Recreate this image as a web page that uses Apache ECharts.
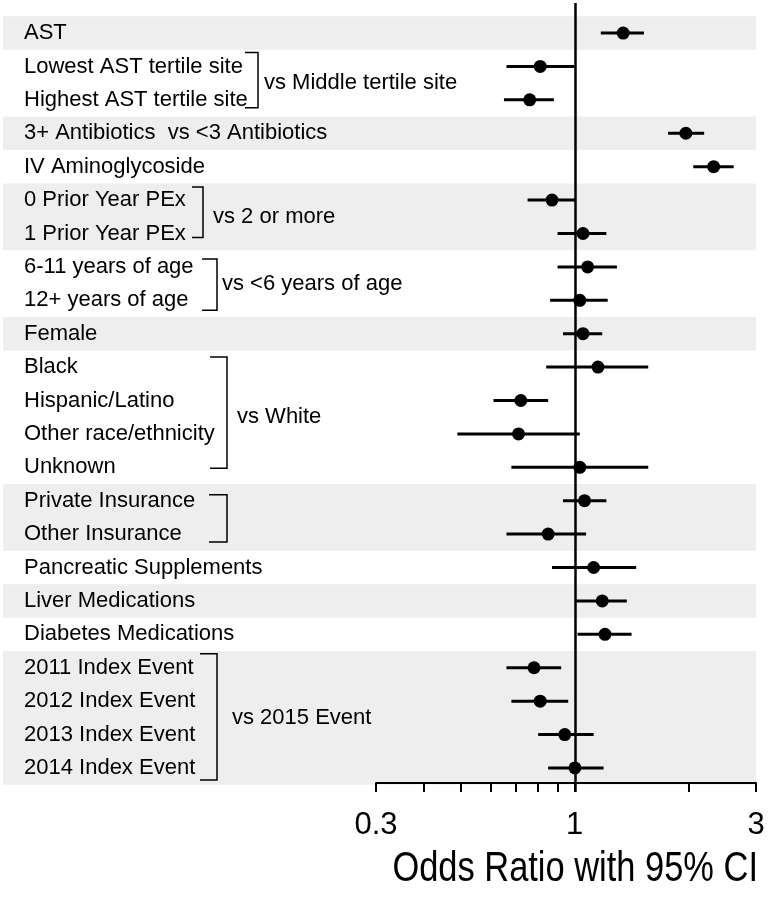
<!DOCTYPE html>
<html><head><meta charset="utf-8">
<script src="https://cdn.jsdelivr.net/npm/echarts@6/dist/echarts.min.js"></script>
<style>html,body{margin:0;padding:0;background:#fff}#chart{width:768px;height:900px}</style>
</head><body><div id="chart"></div>
<script>
// ---------- DATA ----------
const rowLabels = [
  'AST',
  'Lowest AST tertile site',
  'Highest AST tertile site',
  '3+ Antibiotics  vs <3 Antibiotics',
  'IV Aminoglycoside',
  '0 Prior Year PEx',
  '1 Prior Year PEx',
  '6-11 years of age',
  '12+ years of age',
  'Female',
  'Black',
  'Hispanic/Latino',
  'Other race/ethnicity',
  'Unknown',
  'Private Insurance',
  'Other Insurance',
  'Pancreatic Supplements',
  'Liver Medications',
  'Diabetes Medications',
  '2011 Index Event',
  '2012 Index Event',
  '2013 Index Event',
  '2014 Index Event'
];
const oddsRatio = [1.34, 0.81, 0.76, 1.96, 2.32, 0.87, 1.05, 1.08, 1.03, 1.05, 1.15, 0.72, 0.71, 1.03, 1.06, 0.85, 1.12, 1.18, 1.20, 0.78, 0.81, 0.94, 1.00];
const ciLow     = [1.17, 0.66, 0.65, 1.76, 2.05, 0.75, 0.90, 0.90, 0.86, 0.93, 0.84, 0.61, 0.49, 0.68, 0.93, 0.66, 0.87, 1.005, 1.016, 0.66, 0.68, 0.80, 0.85];
const ciHigh    = [1.52, 0.997, 0.88, 2.19, 2.62, 1.004, 1.21, 1.29, 1.22, 1.18, 1.56, 0.85, 1.03, 1.56, 1.21, 1.07, 1.45, 1.37, 1.41, 0.92, 0.96, 1.12, 1.19];
// shaded row groups [firstRow, lastRow]
const shadedGroups = [[0,0],[3,3],[5,6],[9,9],[14,15],[17,17],[19,22]];
// bracketed comparison groups [firstRow, lastRow]
const bracketRows  = [[1,2],[5,6],[7,8],[10,13],[14,15],[19,22]];
const bracketTexts = ['vs Middle tertile site','vs 2 or more','vs <6 years of age','vs White','','vs 2015 Event'];
const xTickValues  = [0.3,0.4,0.5,0.6,0.7,0.8,0.9,1,2,3];
const xLabelValues = [0.3,1,3];
const xTitle = 'Odds Ratio with 95% CI';

// ---------- STYLE / LAYOUT ----------
const FONT = "'Liberation Sans', Arial, sans-serif";
const bracketStyle = [
  {x:258, tick:13, top:-14, bot:8,  tx:264},
  {x:203, tick:11, top:-13, bot:4,  tx:213},
  {x:217, tick:15, top:-8,  bot:10, tx:222},
  {x:227, tick:17, top:-10, bot:1,  tx:237},
  {x:227, tick:18, top:-6,  bot:8,  tx:237},
  {x:217, tick:17, top:-14, bot:12, tx:232}
];

const chart = echarts.init(document.getElementById('chart'), null, {renderer:'canvas'});

const ciData = oddsRatio.map((v,i)=>[oddsRatio[i], i, ciLow[i], ciHigh[i]]);
const pointData = oddsRatio.map((v,i)=>[v, i]);
const labelData = rowLabels.map((t,i)=>[1, i]);
const bracketData = bracketRows.map(r=>[1, r[0], r[1]]);

const option = {
  backgroundColor:'#ffffff',
  animation:false,
  graphic:[
    {type:'text', x:758, y:869, scaleX:0.82, z:20,
     style:{text:xTitle, font:'42px '+FONT, fill:'#000', align:'right', verticalAlign:'middle'}}
  ],
  grid:[
    {left:3, right:12, top:3, bottom:108, containLabel:false},
    {left:376, right:12, top:781, height:2, containLabel:false}
  ],
  xAxis:[
    {gridIndex:0, type:'log', logBase:10, min:0.0311, max:3,
     axisLine:{show:false}, axisTick:{show:false}, axisLabel:{show:false}, splitLine:{show:false}},
    {gridIndex:1, type:'log', logBase:10, min:0.3, max:3, position:'bottom', z:10,
     axisLine:{show:true, onZero:false, lineStyle:{color:'#000', width:2}},
     axisTick:{show:true, length:9, lineStyle:{color:'#000', width:2}, customValues:xTickValues},
     axisLabel:{show:true, customValues:xLabelValues, margin:27, fontFamily:FONT, fontSize:31, color:'#000',
       formatter:v=>String(+v.toFixed(2))},
     splitLine:{show:false}}
  ],
  yAxis:[
    {gridIndex:0, type:'value', inverse:true, min:-0.9, max:22.72, show:false},
    {gridIndex:1, type:'value', show:false, min:0, max:1}
  ],
  series:[
    {
      type:'line', xAxisIndex:0, yAxisIndex:0, data:[], silent:true, z:0,
      markArea:{silent:true, itemStyle:{color:'#eeeeee'},
        data: shadedGroups.map(g=>[{yAxis:g[0]-0.5},{yAxis:g[1]+0.5}])},
      markLine:{silent:true, symbol:['none','none'], label:{show:false},
        lineStyle:{color:'#000', width:2.5, type:'solid'},
        data:[{xAxis:1}]}
    },
    {
      type:'custom', xAxisIndex:0, yAxisIndex:0, z:3, silent:true,
      encode:{x:0, y:1},
      data: ciData,
      renderItem:(params, api)=>{
        const row = api.value(1);
        const p1 = api.coord([api.value(2), row]);
        const p2 = api.coord([api.value(3), row]);
        return {type:'line', shape:{x1:p1[0], y1:p1[1], x2:p2[0], y2:p2[1]},
          style:{stroke:'#000', lineWidth:3}};
      }
    },
    {
      type:'scatter', xAxisIndex:0, yAxisIndex:0, z:4, silent:true,
      symbol:'circle', symbolSize:13, itemStyle:{color:'#000', opacity:1},
      data: pointData
    },
    {
      type:'custom', xAxisIndex:0, yAxisIndex:0, z:5, silent:true,
      encode:{x:0, y:1},
      data: labelData,
      renderItem:(params, api)=>{
        const p = api.coord([1, api.value(1)]);
        return {type:'text', x:24, y:p[1],
          style:{text:rowLabels[params.dataIndex], font:'22px '+FONT, fill:'#000', verticalAlign:'middle', align:'left'}};
      }
    },
    {
      type:'custom', xAxisIndex:0, yAxisIndex:0, z:5, silent:true,
      encode:{x:0, y:1},
      data: bracketData,
      renderItem:(params, api)=>{
        const s = bracketStyle[params.dataIndex];
        const yTop = api.coord([1, api.value(1)])[1] + s.top;
        const yBot = api.coord([1, api.value(2)])[1] + s.bot;
        const yMid = api.coord([1, (api.value(1)+api.value(2))/2])[1];
        const children = [
          {type:'polyline', shape:{points:[[s.x-s.tick,yTop],[s.x,yTop],[s.x,yBot],[s.x-s.tick,yBot]]},
           style:{stroke:'#000', lineWidth:1.5, fill:null}}
        ];
        const t = bracketTexts[params.dataIndex];
        if (t) children.push({type:'text', x:s.tx, y:yMid,
          style:{text:t, font:'22px '+FONT, fill:'#000', verticalAlign:'middle', align:'left'}});
        return {type:'group', children};
      }
    }
  ]
};
chart.setOption(option);
</script>
</body></html>
